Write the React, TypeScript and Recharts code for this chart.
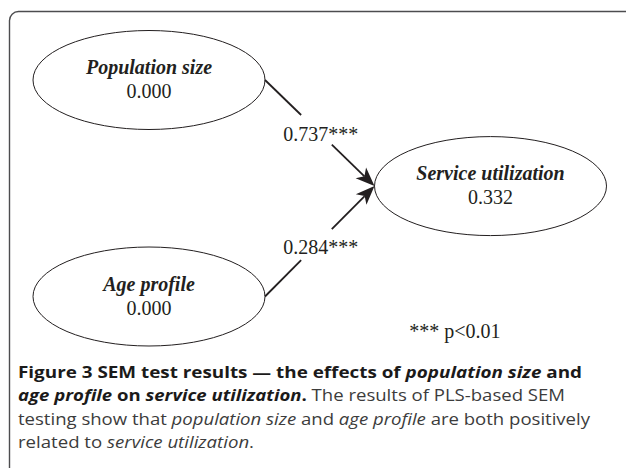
import React from 'react';
import { ScatterChart, Scatter, XAxis, YAxis, ReferenceLine, ReferenceDot, Customized } from 'recharts';

// ---- data ----
const NODE_NAMES = ['Population size', 'Age profile', 'Service utilization'];
const NODE_R2 = [0.0, 0.0, 0.332];
const PATH_FROM = [0, 1];
const PATH_TO = [2, 2];
const PATH_COEF = [0.737, 0.284];
const PATH_SIG = ['***', '***'];
const NOTE_TEXT = '*** p<0.01';

type Seg = { t: string; b?: boolean; i?: boolean };
const CAPTION_LINE_1: Seg[] = [
  { t: 'Figure 3 SEM test results \u2014 the effects of ', b: true },
  { t: 'population size', b: true, i: true },
  { t: ' and', b: true },
];
const CAPTION_LINE_2: Seg[] = [
  { t: 'age profile', b: true, i: true },
  { t: ' on ', b: true },
  { t: 'service utilization', b: true, i: true },
  { t: '.', b: true },
  { t: ' The results of PLS-based SEM' },
];
const CAPTION_LINE_3: Seg[] = [
  { t: 'testing show that ' },
  { t: 'population size', i: true },
  { t: ' and ' },
  { t: 'age profile', i: true },
  { t: ' are both positively' },
];
const CAPTION_LINE_4: Seg[] = [
  { t: 'related to ' },
  { t: 'service utilization', i: true },
  { t: '.' },
];
const CAPTION_LINES = [CAPTION_LINE_1, CAPTION_LINE_2, CAPTION_LINE_3, CAPTION_LINE_4];

// ---- layout (diagram grid: column / row of each node) ----
const NODE_COL = [0, 0, 1];
const NODE_ROW = [0, 1, 0.49];
const NOTE_POS = { col: 0.896, row: 1.19 };
const LABEL_DY = [6.5, 13.5];
const CAPTION_WIDTHS = [564, 547, 572, 236];

const W = 626;
const H = 468;
const X0 = 149; // px of column 0
const XS = 341.5; // px per column
const Y0 = 80; // px of row 0
const YS = 216.5; // px per row
const X_DOMAIN: [number, number] = [-X0 / XS, (W - X0) / XS];
const Y_DOMAIN: [number, number] = [-Y0 / YS, (H - Y0) / YS];

const RX = 116;
const RY = 49.5;
const INK = '#231f20';
const SERIF = '"Liberation Serif", "Times New Roman", serif';
const SANS = '"Open Sans", "Noto Sans", sans-serif';

const nodes = NODE_NAMES.map((name, i) => ({ name, r2: NODE_R2[i], col: NODE_COL[i], row: NODE_ROW[i] }));

const NodeShape = (props: any) => {
  const { cx, cy, payload } = props;
  return (
    <g>
      <ellipse cx={cx} cy={cy} rx={RX} ry={RY} fill="none" stroke={INK} strokeWidth={1} />
      <text x={cx} y={cy - 6} textAnchor="middle" fontFamily={SERIF} fontSize={20} fontWeight="bold" fontStyle="italic" fill={INK}>
        {payload.name}
      </text>
      <text x={cx} y={cy + 18} textAnchor="middle" fontFamily={SERIF} fontSize={20} fill={INK}>
        {payload.r2.toFixed(3)}
      </text>
    </g>
  );
};

const makeEdgeShape = (i: number) => (p: any) => {
  const { x1, y1, x2, y2 } = p;
  const sx = x1 + RX;
  const sy = y1;
  const ex = x2 - RX;
  const ey = y2;
  const dx = ex - sx;
  const dy = ey - sy;
  const len = Math.sqrt(dx * dx + dy * dy);
  const ux = dx / len;
  const uy = dy / len;
  const at = (t: number) => [sx + dx * t, sy + dy * t];
  const [ax, ay] = at(0.33);
  const [bx, by] = at(0.61);
  const AL = 19;
  const AW = 7.5;
  const notch = 14;
  const px = -uy;
  const py = ux;
  const tip = [ex, ey];
  const l = [ex - ux * AL + px * AW, ey - uy * AL + py * AW];
  const n = [ex - ux * notch, ey - uy * notch];
  const r = [ex - ux * AL - px * AW, ey - uy * AL - py * AW];
  const [lx, ly] = at(0.51);
  return (
    <g>
      <line x1={sx} y1={sy} x2={ax} y2={ay} stroke={INK} strokeWidth={1.8} />
      <line x1={bx} y1={by} x2={n[0]} y2={n[1]} stroke={INK} strokeWidth={1.8} />
      <polygon points={[tip, l, n, r].map((q) => q.join(',')).join(' ')} fill={INK} />
      <text x={lx} y={ly + LABEL_DY[i]} textAnchor="middle" fontFamily={SERIF} fontSize={20} fill={INK}>
        {PATH_COEF[i].toFixed(3) + PATH_SIG[i]}
      </text>
    </g>
  );
};

const NoteShape = (p: any) => (
  <text x={p.cx} y={p.cy} textAnchor="middle" fontFamily={SERIF} fontSize={20} fill={INK}>
    {NOTE_TEXT}
  </text>
);

const Frame = () => (
  <g>
    <rect x={9.5} y={11.5} width={700} height={600} rx={9} ry={9} fill="none" stroke="#4d4d4f" strokeWidth={1.4} />
    {CAPTION_LINES.map((line, li) => (
      <text
        key={li}
        x={18}
        y={378 + li * 23.3}
        fontFamily={SANS}
        fontSize={16}
        textLength={CAPTION_WIDTHS[li]}
        lengthAdjust="spacingAndGlyphs"
      >
        {line.map((s, si) => (
          <tspan
            key={si}
            fontWeight={s.b ? 'bold' : 'normal'}
            fontStyle={s.i ? 'italic' : 'normal'}
            fill={s.b ? '#1b1a1a' : '#3c3c3c'}
          >
            {s.t}
          </tspan>
        ))}
      </text>
    ))}
  </g>
);

export default function App() {
  return (
    <div style={{ position: 'absolute', left: 0, top: 0, width: W, height: H, background: '#fff' }}>
      <ScatterChart width={W} height={H} margin={{ top: 0, right: 0, bottom: 0, left: 0 }}>
        <XAxis type="number" dataKey="col" domain={X_DOMAIN} hide />
        <YAxis type="number" dataKey="row" domain={Y_DOMAIN} reversed hide />
        <Customized component={Frame} />
        {PATH_FROM.map((f, i) => (
          <ReferenceLine
            key={i}
            segment={[
              { x: NODE_COL[f], y: NODE_ROW[f] },
              { x: NODE_COL[PATH_TO[i]], y: NODE_ROW[PATH_TO[i]] },
            ]}
            shape={makeEdgeShape(i)}
          />
        ))}
        <ReferenceDot x={NOTE_POS.col} y={NOTE_POS.row} shape={NoteShape} />
        <Scatter data={nodes} shape={NodeShape} isAnimationActive={false} />
      </ScatterChart>
    </div>
  );
}
